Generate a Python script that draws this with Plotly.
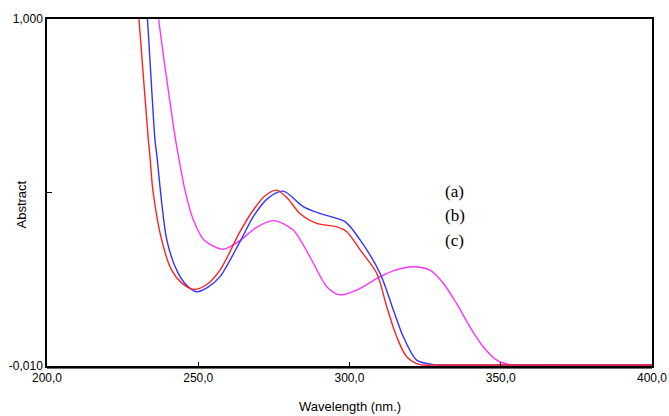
import plotly.graph_objects as go

# Wavelength (nm) / absorbance readings for each spectrum
red_wl = [229.5, 230.4, 233.5, 234.0, 235.0, 237.9, 241.2, 244.5, 248.4, 252.5, 257.2, 263.8, 268.2, 272.0,
          275.9, 279.5, 283.6, 289.2, 295.8, 299.1, 303.5, 309.0, 312.3, 315.6, 318.9, 323.3, 330.0, 360.0, 400.0]
red_ab = [1.10, 1.00, 0.648, 0.604, 0.502, 0.357, 0.269, 0.232, 0.213, 0.225, 0.269, 0.381, 0.444, 0.485,
          0.502, 0.478, 0.434, 0.405, 0.395, 0.381, 0.328, 0.260, 0.163, 0.075, 0.017, -0.006, -0.007, -0.007, -0.007]

blue_wl = [232.3, 233.2, 235.7, 236.3, 239.6, 243.3, 246.5, 249.5, 253.0, 257.2, 263.8, 268.2, 273.0,
           278.1, 284.7, 290.2, 298.5, 303.5, 310.1, 314.5, 317.8, 322.2, 327.6, 335.0, 360.0, 400.0]
blue_ab = [1.10, 1.00, 0.648, 0.604, 0.357, 0.261, 0.222, 0.206, 0.218, 0.250, 0.352, 0.425, 0.478,
           0.499, 0.454, 0.434, 0.410, 0.357, 0.260, 0.153, 0.075, 0.007, -0.006, -0.007, -0.007, -0.007]

mag_wl = [235.8, 236.9, 242.5, 243.4, 245.6, 248.4, 251.9, 258.3, 263.8, 269.0, 274.8, 281.4, 286.9,
          292.5, 296.9, 302.4, 310.1, 315.5, 321.1, 326.6, 331.0, 335.4, 339.8, 344.2, 348.7, 353.1, 370.0, 400.0]
mag_ab = [1.10, 1.00, 0.648, 0.604, 0.502, 0.415, 0.357, 0.330, 0.355, 0.392, 0.413, 0.386, 0.308,
          0.221, 0.197, 0.211, 0.250, 0.270, 0.279, 0.269, 0.231, 0.172, 0.104, 0.046, 0.007, -0.006, -0.007, -0.007]

x_ticks = [200, 250, 300, 350, 400]
x_tick_text = ["200,0", "250,0", "300,0", "350,0", "400,0"]
y_ticks = [-0.010, 0.495, 1.000]
y_tick_text = ["-0,010", "", "1,000"]
labels = ["(a)", "(b)", "(c)"]
label_y = [0.499, 0.427, 0.354]

fig = go.Figure()
fig.add_trace(go.Scatter(x=mag_wl, y=mag_ab, mode="lines",
                         line=dict(color="#ff33ff", width=1.4, shape="spline", smoothing=0.8)))
fig.add_trace(go.Scatter(x=blue_wl, y=blue_ab, mode="lines",
                         line=dict(color="#3333ff", width=1.4, shape="spline", smoothing=0.8)))
fig.add_trace(go.Scatter(x=red_wl, y=red_ab, mode="lines",
                         line=dict(color="#ff2222", width=1.4, shape="spline", smoothing=0.8)))

for t, yy in zip(labels, label_y):
    fig.add_annotation(x=330.9, y=yy, text=t, showarrow=False, xanchor="left", yanchor="middle",
                       font=dict(family="Liberation Serif", size=17, color="black"))

fig.add_annotation(x=0.5, y=0, xref="paper", yref="paper", text="Wavelength (nm.)", showarrow=False,
                   yshift=-40, xanchor="center", yanchor="middle",
                   font=dict(family="Liberation Sans", size=13, color="black"))
fig.add_annotation(x=0, y=0.5, xref="paper", yref="paper", text="Abstract", showarrow=False,
                   textangle=-90, xshift=-26, yshift=-12, xanchor="center", yanchor="middle",
                   font=dict(family="Liberation Sans", size=13, color="black"))

# second bottom line (double baseline)
fig.add_shape(type="line", xref="paper", yref="paper", x0=0, x1=1, y0=-0.006, y1=-0.006,
              line=dict(color="black", width=1))

fig.update_layout(
    width=669, height=416,
    margin=dict(l=47, r=17, t=19, b=50),
    paper_bgcolor="white", plot_bgcolor="white",
    showlegend=False,
    font=dict(family="Liberation Sans", size=12, color="black"),
)
fig.update_xaxes(range=[200, 400], tickvals=x_ticks, ticktext=x_tick_text, showgrid=False, zeroline=False,
                 showline=True, linecolor="black", linewidth=1.5, mirror=True, automargin=False,
                 ticks="inside", ticklen=4, tickcolor="black")
fig.update_yaxes(range=[-0.010, 1.000], tickvals=y_ticks, ticktext=y_tick_text, showgrid=False, zeroline=False,
                 showline=True, linecolor="black", linewidth=1.5, mirror=True, automargin=False,
                 ticks="inside", ticklen=5, tickcolor="black")

fig.write_html("out.html", config={"displayModeBar": False},
               post_script="document.body.style.margin='0';document.body.style.overflow='hidden';")
